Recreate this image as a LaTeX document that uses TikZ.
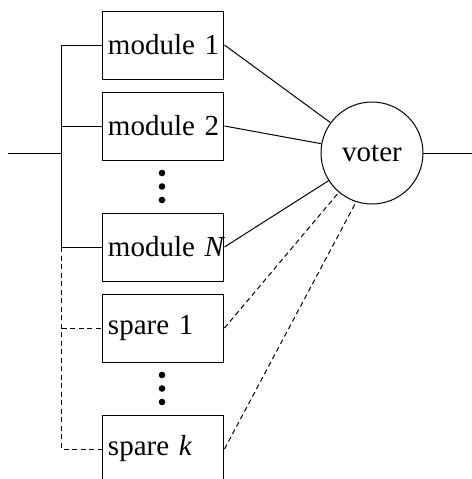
\documentclass[tikz,border=0pt]{standalone}
\usepackage{fontspec}
\setmainfont{Liberation Serif}
\usetikzlibrary{positioning}
\def\boxw{60.5pt}
\def\boxh{34pt}
\tikzset{unit/.style={draw,rectangle,minimum width=\boxw,minimum height=\boxh,inner sep=2.5pt,text width=\boxw-5pt,align=left},
	vote/.style={draw,circle,minimum size=51pt,inner sep=0pt},
	spare/.style={dash pattern=on 2.5pt off 1.75pt}}
\newcommand{\dotcol}[1]{\foreach \d in {-13.5,0,13.5} {\fill (#1) ++(0,\d) circle (1.65pt);}}

\begin{document}
\begin{tikzpicture}[x=0.5pt,y=-0.5pt,line width=0.5pt,font=\fontsize{14.5}{17}\selectfont]
\useasboundingbox (0,0) rectangle (472,479);
\node[unit] (m1) at (163.5,45) {module~1};
\node[unit] (m2) at (163.5,126) {module~2};
\node[unit] (mN) at (163.5,247) {module~\textit{N}};
\node[unit] (sp1) at (163.5,328) {spare~1};
\node[unit] (spk) at (163.5,449) {spare~\textit{k}};
\node[vote] (voter) at (372,153) {voter};
\coordinate (dm) at (162,186.5);
\coordinate (ds) at (162,388.5);
\coordinate (in) at (8,153);
\coordinate (bus) at (62,153);
\coordinate (out) at (472,153);
\dotcol{dm}
\dotcol{ds}

% inputs
\draw (in) -- (bus);
\draw (m1.west -| bus) -- (mN.west -| bus);
\draw (m1.west) -- (m1.west -| bus);
\draw (m2.west) -- (m2.west -| bus);
\draw (mN.west) -- (mN.west -| bus);
\draw[spare] (mN.west -| bus) -- (spk.west -| bus) -- (spk.west);
\draw[spare] (sp1.west -| bus) -- (sp1.west);

% to the voter
\draw (m1.east) -- (voter);
\draw (m2.east) -- (voter);
\draw (mN.east) -- (voter);
\draw[spare] (sp1.east) -- (voter);
\draw[spare] (spk.east) -- (voter.-108);
\draw (voter) -- (out);
\end{tikzpicture}
\end{document}
